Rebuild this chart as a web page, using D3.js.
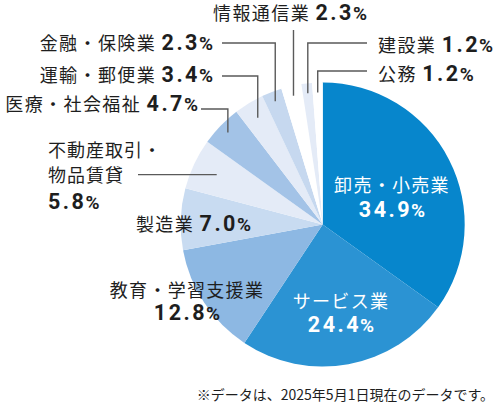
<!DOCTYPE html>
<html><head><meta charset="utf-8">
<script src="https://cdn.jsdelivr.net/npm/d3@7"></script>
<style>body{margin:0;background:#fff}svg{display:block}</style>
</head><body>
<svg id="c" width="500" height="408"></svg>
<script>
const categories = ["卸売・小売業","サービス業","教育・学習支援業","製造業","不動産取引・物品賃貸","医療・社会福祉","運輸・郵便業","金融・保険業","情報通信業","建設業","公務"];
const values = [34.9,24.4,12.8,7.0,5.8,4.7,3.4,2.3,2.3,1.2,1.2];
const sliceColors = ["#0786cc","#2b93d3","#8db8e3","#c8dbf1","#e4ebf7","#a3c3e7","#e4ebf7","#c6d8ef","#ffffff","#e4ebf7","#ffffff"];
const note = "※データは、2025年5月1日現在のデータです。";

const svg = d3.select("#c");
const cx = 322.7, cy = 224.5, R = 142;
const jp = "'Noto Sans CJK JP','Noto Sans',sans-serif";
const num = "Roboto,'Noto Sans',sans-serif";

const pie = d3.pie().sort(null).value(d => d).startAngle(0).endAngle(2*Math.PI);
const arcs = pie(values);
const arc = d3.arc().innerRadius(0).outerRadius(R);
const g = svg.append("g").attr("transform", `translate(${cx},${cy})`);
g.selectAll("path").data(arcs).join("path")
  .attr("d", arc).attr("fill", (d,i) => sliceColors[i]);

// label layout (positions only)
const layout = [
  {type:"inside", x:392, y1:192, y2:217},
  {type:"inside", x:341, y1:308, y2:332},
  {type:"stack", anchor:"middle", x:187, y1:297, y2:320},
  {type:"inline", anchor:"end", x:251, y:231},
  {type:"multi", x:48, lines:[157,182], y2:209, split:6, lead:{x0:138, rf:0.825, mode:"h"}},
  {type:"inline", anchor:"end", x:198, y:111, lead:{x0:201, y0:109, rf:0.93, mode:"elbow"}},
  {type:"inline", anchor:"end", x:213, y:82, lead:{x0:222, y0:76, rf:0.88, mode:"elbow"}},
  {type:"inline", anchor:"end", x:213, y:50, lead:{x0:222, y0:43, rf:0.93, mode:"elbow"}},
  {type:"inline", anchor:"middle", x:290, y:20, lead:{y0:30, rf:0.93, mode:"v"}},
  {type:"inline", anchor:"start", x:378, y:52, lead:{x0:367, y0:43, rf:0.93, mode:"elbow"}},
  {type:"inline", anchor:"start", x:378, y:81, lead:{x0:367, y0:71, rf:0.93, mode:"elbow"}}
];

function addNum(t, v) {
  t.append("tspan").attr("font-family", num).attr("font-weight", 700)
    .attr("font-size", 21.5).attr("letter-spacing", 2.5).text(v.toFixed(1));
  t.append("tspan").attr("font-family", num).attr("font-weight", 700)
    .attr("font-size", 19).attr("dx", -1).text("%");
}

const lab = svg.append("g");
const leads = svg.append("g").attr("fill","none").attr("stroke","#5a5a5a").attr("stroke-width",1.4);

arcs.forEach((a, i) => {
  const L = layout[i];
  const name = categories[i];
  const inside = L.type === "inside";
  const col = inside ? "#ffffff" : "#1e1e1e";
  if (L.type === "inside" || L.type === "stack") {
    lab.append("text").attr("x", L.x).attr("y", L.y1).attr("text-anchor","middle")
      .attr("font-family", jp).attr("font-size", 18).attr("letter-spacing", 1.3)
      .attr("fill", col).text(name);
    const t = lab.append("text").attr("x", L.x).attr("y", L.y2).attr("text-anchor","middle").attr("fill", col);
    addNum(t, values[i]);
  } else if (L.type === "inline") {
    const t = lab.append("text").attr("x", L.x).attr("y", L.y).attr("text-anchor", L.anchor).attr("fill", col);
    t.append("tspan").attr("font-family", jp).attr("font-size", 18).attr("letter-spacing", 1.4).text(name + " ");
    addNum(t, values[i]);
  } else if (L.type === "multi") {
    const parts = [name.slice(0, L.split), name.slice(L.split)];
    parts.forEach((p, k) => {
      lab.append("text").attr("x", L.x).attr("y", L.lines[k]).attr("font-family", jp)
        .attr("font-size", 18).attr("letter-spacing", 1).attr("fill", col).text(p);
    });
    const t = lab.append("text").attr("x", L.x).attr("y", L.y2).attr("fill", col);
    addNum(t, values[i]);
  }
  if (L.lead) {
    const mid = (a.startAngle + a.endAngle) / 2;
    const r = R * L.lead.rf;
    const px = cx + r * Math.sin(mid), py = cy - r * Math.cos(mid);
    let pts;
    if (L.lead.mode === "h") pts = [[L.lead.x0, py], [px, py]];
    else if (L.lead.mode === "v") pts = [[px, L.lead.y0], [px, py]];
    else pts = [[L.lead.x0, L.lead.y0], [px, L.lead.y0], [px, py]];
    leads.append("path").attr("d", d3.line()(pts));
  }
});

svg.append("text").attr("x", 494).attr("y", 400).attr("text-anchor","end")
  .attr("font-family", jp).attr("font-size", 14).attr("fill","#1e1e1e").text(note);
</script>
</body></html>
